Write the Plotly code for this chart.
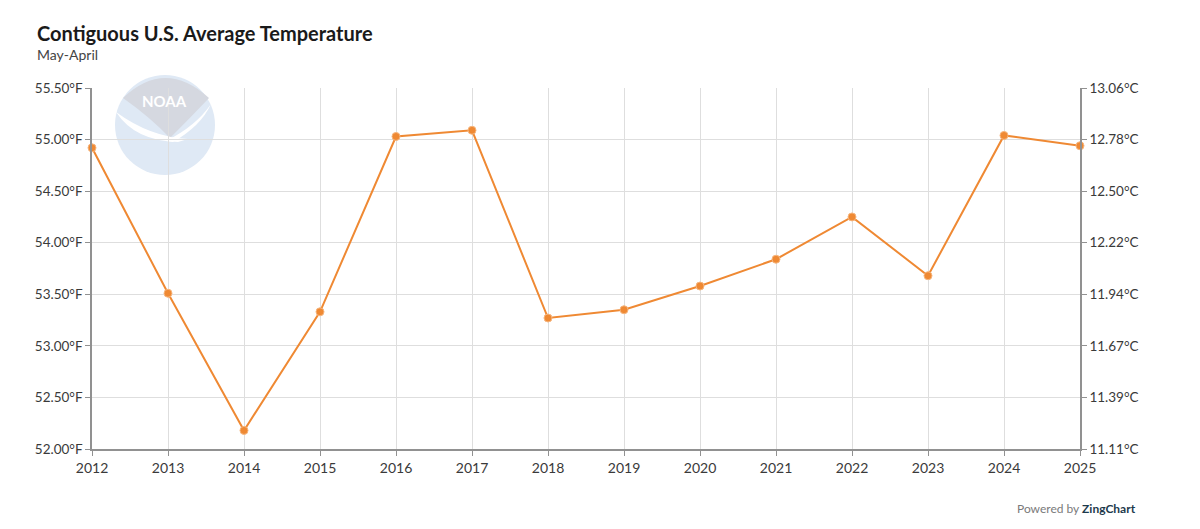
import plotly.graph_objects as go

years = [2012, 2013, 2014, 2015, 2016, 2017, 2018, 2019, 2020, 2021, 2022, 2023, 2024, 2025]
temps_f = [54.92, 53.51, 52.18, 53.33, 55.03, 55.09, 53.27, 53.35, 53.58, 53.84, 54.25, 53.68, 55.04, 54.94]

f_ticks = [52.0, 52.5, 53.0, 53.5, 54.0, 54.5, 55.0, 55.5]
f_labels = ["52.00°F", "52.50°F", "53.00°F", "53.50°F", "54.00°F", "54.50°F", "55.00°F", "55.50°F"]
c_labels = ["11.11°C", "11.39°C", "11.67°C", "11.94°C", "12.22°C", "12.50°C", "12.78°C", "13.06°C"]

FONT = "Lato"
LINE = "#ef8933"
TXT = "#3a3a3a"
AX = "#919191"
GRID = "#dedede"

OFF = 8  # page body margin
W, H = 1200, 529
L, T = 92 - OFF, 88 - OFF
R = W - (1080 - OFF)
B = H - (449 - OFF)
PW, PH = W - L - R, H - T - B


def px(x):
    return (x - OFF - L) / PW


def py(y):
    return (H - B - (y - OFF)) / PH


fig = go.Figure()
fig.add_trace(go.Scatter(
    x=years, y=temps_f, mode="lines+markers",
    line=dict(color=LINE, width=2),
    marker=dict(color=LINE, size=8, line=dict(color="#f6b67f", width=1)),
    cliponaxis=False, showlegend=False,
    hovertemplate="%{x}: %{y:.2f}°F<extra></extra>",
))
fig.add_trace(go.Scatter(
    x=years, y=temps_f, yaxis="y2", mode="lines",
    line=dict(color="rgba(0,0,0,0)"), showlegend=False, hoverinfo="skip",
))

# NOAA logo watermark
shapes = [
    dict(type="circle", xref="paper", yref="paper", layer="below",
         x0=px(115), x1=px(215), y0=py(175), y1=py(75),
         fillcolor="#dfe9f5", line=dict(width=0)),
    dict(type="path", xref="paper", yref="paper", layer="below",
         path=(f"M {px(123)},{py(98)} "
               f"Q {px(165)},{py(58)} {px(209)},{py(98)} "
               f"Q {px(190)},{py(118)} {px(170)},{py(138)} "
               f"Q {px(150)},{py(117)} {px(123)},{py(98)} Z"),
         fillcolor="#d5d8e0", line=dict(width=0)),
    dict(type="path", xref="paper", yref="paper", layer="below",
         path=(f"M {px(116)},{py(112)} "
               f"Q {px(135)},{py(141)} {px(178)},{py(142)} "
               f"L {px(188)},{py(139)} "
               f"Q {px(150)},{py(137)} {px(116)},{py(112)} Z"),
         fillcolor="#ffffff", line=dict(width=0)),
    dict(type="path", xref="paper", yref="paper", layer="below",
         path=(f"M {px(211)},{py(104)} "
               f"Q {px(196)},{py(126)} {px(166)},{py(141)} "
               f"L {px(173)},{py(142)} "
               f"Q {px(201)},{py(126)} {px(211)},{py(104)} Z"),
         fillcolor="#ffffff", line=dict(width=0)),
]

annotations = [
    dict(text="<b>NOAA</b>", xref="paper", yref="paper", x=px(164), y=py(101),
         xanchor="center", yanchor="middle",
         showarrow=False, font=dict(family="Liberation Sans Narrow, " + FONT, size=15, color="#ffffff")),
    dict(text="<b>Contiguous U.S. Average Temperature</b>", xref="paper", yref="paper",
         x=px(35), y=py(33), xanchor="left", yanchor="middle", showarrow=False,
         font=dict(family=FONT, size=20, color="#1a1a1a")),
    dict(text="May-April", xref="paper", yref="paper",
         x=px(35), y=py(55), xanchor="left", yanchor="middle", showarrow=False,
         font=dict(family=FONT, size=14, color="#444444")),
    dict(text="<span style='color:#7a7a7a'>Powered by</span> <b><span style='color:#1d3a4c'>ZingChart</span></b>",
         xref="paper", yref="paper", x=px(1138), y=py(508), xanchor="right", yanchor="middle",
         showarrow=False, font=dict(family=FONT, size=12)),
]

fig.update_layout(
    width=W, height=H, autosize=False,
    margin=dict(l=L, r=R, t=T, b=B),
    paper_bgcolor="#ffffff", plot_bgcolor="#ffffff",
    font=dict(family=FONT, size=13, color=TXT),
    shapes=shapes, annotations=annotations,
    xaxis=dict(range=[2012, 2025], tickmode="array", tickvals=years,
               ticktext=[str(y) for y in years],
               showgrid=True, gridcolor=GRID, gridwidth=1,
               showline=True, linecolor=AX, linewidth=1.5,
               ticks="outside", ticklen=5, tickcolor=AX,
               zeroline=False, tickfont=dict(size=14, color=TXT)),
    yaxis=dict(range=[52.0, 55.5], tickmode="array", tickvals=f_ticks, ticktext=f_labels,
               showgrid=True, gridcolor=GRID, gridwidth=1,
               showline=True, linecolor=AX, linewidth=1.5,
               ticks="outside", ticklen=5, tickcolor=AX,
               zeroline=False, tickfont=dict(size=13.5, color=TXT)),
    yaxis2=dict(range=[52.0, 55.5], tickmode="array", tickvals=f_ticks, ticktext=c_labels,
                overlaying="y", side="right", showgrid=False,
                showline=True, linecolor=AX, linewidth=1.5,
                ticks="outside", ticklen=5, tickcolor=AX,
                zeroline=False, tickfont=dict(size=13.5, color=TXT)),
)

fig.write_html("out.html")
